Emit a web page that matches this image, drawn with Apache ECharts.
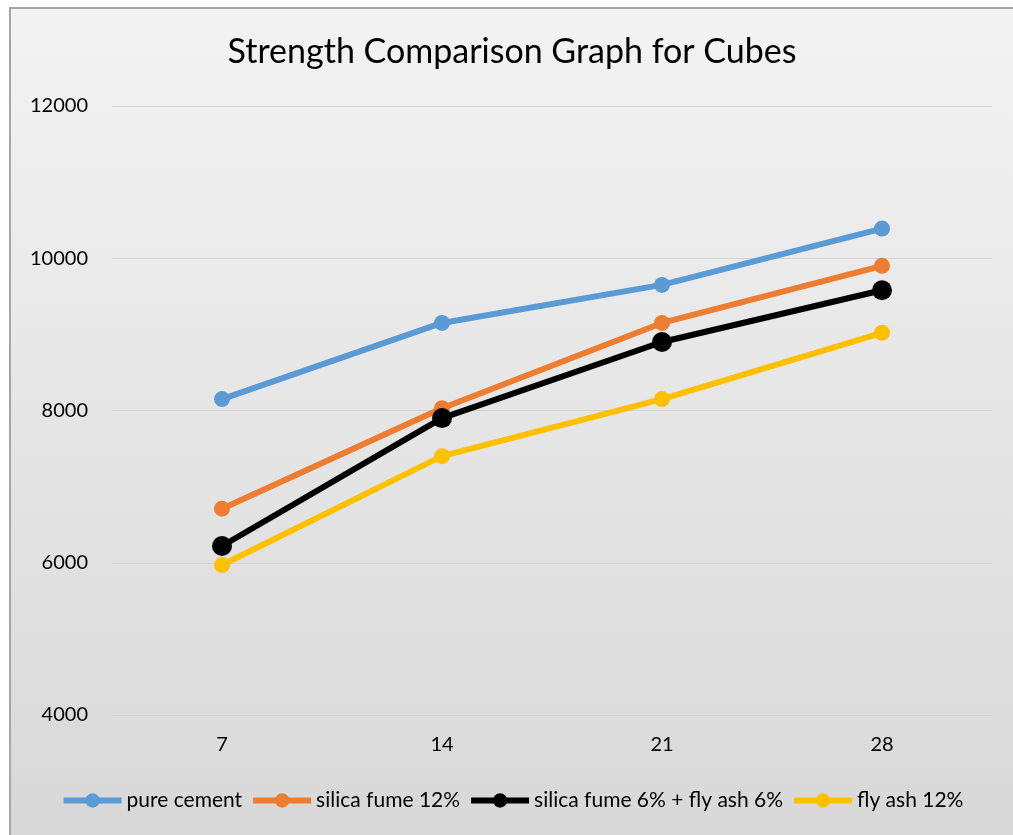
<!DOCTYPE html>
<html>
<head>
<meta charset="utf-8">
<script src="https://cdn.jsdelivr.net/npm/echarts@6/dist/echarts.min.js"></script>
<style>
  html, body { margin: 0; padding: 0; background: #ffffff; overflow: hidden; }
  #chart {
    position: absolute; left: 9px; top: 7px;
    width: 1002px; height: 826px;
    border-left: 2px solid #a6a6a6; border-top: 2px solid #a6a6a6;
  }
</style>
</head>
<body>
<div id="chart"></div>
<script>
// 数据
var days = ['7', '14', '21', '28'];
var pureCement = [8150, 9150, 9650, 10390];
var silicaFume12 = [6710, 8030, 9150, 9900];
var silicaFlyAsh = [6220, 7900, 8900, 9580];
var flyAsh12 = [5970, 7400, 8150, 9020];

var font = 'Lato, "Open Sans", sans-serif';

function lineSeries(name, data, color, size) {
  return {
    name: name,
    type: 'line',
    data: data,
    symbol: 'circle',
    symbolSize: size,
    lineStyle: { color: color, width: 6 },
    itemStyle: { color: color },
    emphasis: { disabled: true }
  };
}

var chart = echarts.init(document.getElementById('chart'));
chart.setOption({
  backgroundColor: new echarts.graphic.LinearGradient(0, 0, 0, 1, [
    { offset: 0, color: '#f3f3f3' },
    { offset: 1, color: '#d8d8d8' }
  ]),
  animation: false,
  title: {
    text: 'Strength Comparison Graph for Cubes',
    left: 'center',
    top: 21,
    textStyle: { fontFamily: font, fontSize: 34, fontWeight: 'normal', color: '#000' }
  },
  legend: {
    top: 776,
    left: 'center',
    itemWidth: 58,
    itemHeight: 18,
    itemGap: 8,
    lineStyle: { width: 6 },
    textStyle: { fontFamily: font, fontSize: 21, color: '#000' },
    data: ['pure cement', 'silica fume 12%', 'silica fume 6% + fly ash 6%', 'fly ash 12%']
  },
  grid: { left: 101, right: 21, top: 97, bottom: 120 },
  xAxis: {
    type: 'category',
    data: days,
    boundaryGap: true,
    axisLine: { show: true, lineStyle: { color: '#d0d0d0', width: 1 } },
    axisTick: { show: false },
    axisLabel: { fontFamily: font, fontSize: 20, color: '#000', margin: 20 }
  },
  yAxis: {
    type: 'value',
    min: 4000,
    max: 12000,
    interval: 2000,
    axisLine: { show: false },
    axisTick: { show: false },
    axisLabel: { fontFamily: font, fontSize: 20, color: '#000', margin: 24, formatter: function (v) { return String(v); } },
    splitLine: { lineStyle: { color: '#d4d4d4', width: 1 } }
  },
  series: [
    lineSeries('pure cement', pureCement, '#5b9bd5', 16),
    lineSeries('silica fume 12%', silicaFume12, '#ed7d31', 16),
    lineSeries('silica fume 6% + fly ash 6%', silicaFlyAsh, '#000000', 20),
    lineSeries('fly ash 12%', flyAsh12, '#ffc000', 16)
  ]
});
</script>
</body>
</html>
